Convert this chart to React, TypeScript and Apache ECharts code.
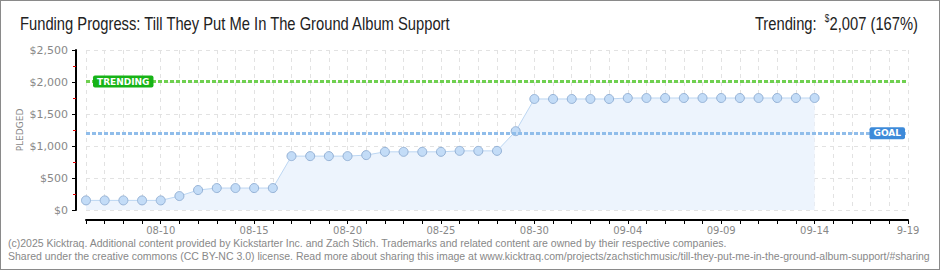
import React, { useEffect, useRef } from "react";
import * as echarts from "echarts";

const dates = [
  "08-06","08-07","08-08","08-09","08-10","08-11","08-12","08-13","08-14","08-15",
  "08-16","08-17","08-18","08-19","08-20","08-21","08-22","08-23","08-24","08-25",
  "08-26","08-27","08-28","08-29","08-30","08-31","09-01","09-02","09-03","09-04",
  "09-05","09-06","09-07","09-08","09-09","09-10","09-11","09-12","09-13","09-14",
  "09-15","09-16","09-17","09-18","09-19",
];
const tickLabels: Record<string, string> = {
  "08-10": "08-10", "08-15": "08-15", "08-20": "08-20", "08-25": "08-25",
  "08-30": "08-30", "09-04": "09-04", "09-09": "09-09", "09-14": "09-14", "09-19": "9-19",
};
const pledged = [
  150, 150, 150, 150, 150, 218, 312, 343, 343, 343,
  343, 842, 842, 842, 842, 858, 909, 909, 909, 909,
  924, 924, 924, 1232, 1735, 1735, 1735, 1735, 1735, 1750,
  1750, 1750, 1750, 1750, 1750, 1750, 1750, 1750, 1750, 1750,
];
const goal = 1200;
const trending = 2007;
const trendingPct = 167;
const yMax = 2500;
const yStep = 500;

const title = "Funding Progress: Till They Put Me In The Ground Album Support";
const footer1 = "(c)2025 Kicktraq. Additional content provided by Kickstarter Inc. and Zach Stich. Trademarks and related content are owned by their respective companies.";
const footer2 = "Shared under the creative commons (CC BY-NC 3.0) license. Read more about sharing this image at www.kicktraq.com/projects/zachstichmusic/till-they-put-me-in-the-ground-album-support/#sharing";

const LIB = "Liberation Sans";
const AXISF = "DejaVu Sans";
const CONDENSE = 0.82;

export default function App() {
  const ref = useRef<HTMLDivElement>(null);
  useEffect(() => {
    if (!ref.current) return;
    const chart = echarts.init(ref.current, undefined, { renderer: "svg" });
    const fmtMoney = (v: number) => "$" + v.toLocaleString("en-US");
    chart.setOption({
      animation: false,
      backgroundColor: "#ffffff",
      grid: { left: 86, right: 32, top: 50, bottom: 60 },
      xAxis: {
        type: "category",
        data: dates,
        boundaryGap: false,
        offset: 10,
        axisLine: { onZero: false, lineStyle: { color: "#000", width: 2 } },
        axisTick: { show: true, interval: 0, length: 4, lineStyle: { color: "#000", width: 1 } },
        axisLabel: {
          interval: 0,
          margin: 5,
          color: "#888",
          fontFamily: AXISF,
          fontSize: 10,
          formatter: (v: string) => tickLabels[v] || "",
        },
        splitLine: { show: true, interval: 0, lineStyle: { color: "#e2e2e2", type: [4, 4], width: 1 } },
      },
      yAxis: {
        type: "value",
        min: 0,
        max: yMax,
        interval: yStep,
        offset: 10,
        name: "PLEDGED",
        nameLocation: "middle",
        nameGap: 52,
        nameMoveOverlap: false,
        nameTextStyle: { color: "#888", fontFamily: AXISF, fontSize: 9 },
        axisLine: { show: true, onZero: false, lineStyle: { color: "#000", width: 2 } },
        axisTick: { show: true, length: 4, lineStyle: { color: "#000" } },
        minorTick: { show: true, splitNumber: 2, length: 3, lineStyle: { color: "#e00000" } },
        axisLabel: { color: "#888", fontFamily: AXISF, fontSize: 11, margin: 8, formatter: fmtMoney },
        splitLine: { show: true, lineStyle: { color: "#e2e2e2", type: [4, 4], width: 1 } },
      },
      series: [
        {
          type: "line",
          data: pledged,
          symbol: "circle",
          symbolSize: 9,
          showSymbol: true,
          itemStyle: { color: "#c3dcf7", borderColor: "#95b2d6", borderWidth: 1 },
          lineStyle: { color: "#bcd6f2", width: 1 },
          areaStyle: { color: "#edf4fd", opacity: 1 },
          z: 3,
          markLine: {
            silent: true,
            symbol: "none",
            data: [
              {
                yAxis: trending,
                lineStyle: { color: "#6fd050", type: [4, 2], width: 3 },
                label: {
                  show: true,
                  position: "insideStart",
                  formatter: "TRENDING",
                  color: "#fff",
                  fontFamily: AXISF,
                  fontSize: 9,
                  fontWeight: "bold",
                  backgroundColor: "#17b317",
                  padding: [2, 4, 1, 4],
                  borderRadius: 2,
                  distance: 7,
                },
              },
              {
                yAxis: goal,
                lineStyle: { color: "#90bdea", type: [4, 2], width: 3 },
                label: {
                  show: true,
                  position: "insideEnd",
                  formatter: "GOAL",
                  color: "#fff",
                  fontFamily: AXISF,
                  fontSize: 9,
                  fontWeight: "bold",
                  backgroundColor: "#3d8ad9",
                  padding: [2, 4, 1, 4],
                  borderRadius: 2,
                  distance: 3,
                },
              },
            ],
          },
        },
      ],
      graphic: [
        {
          type: "rect",
          shape: { x: 0, y: 0, width: 940, height: 270 },
          style: { fill: "none", stroke: "#8a8a8a", lineWidth: 2 },
          silent: true,
        },
        {
          type: "text",
          x: 20,
          y: 23,
          scaleX: CONDENSE,
          style: {
            text: title,
            fontFamily: LIB,
            fontSize: 18,
            fill: "#222",
            textAlign: "left",
            textVerticalAlign: "middle",
          },
        },
        {
          type: "text",
          x: 918,
          y: 23,
          scaleX: CONDENSE,
          style: {
            text: "Trending:  {s|$}" + trending.toLocaleString("en-US") + " (" + trendingPct + "%)",
            fontFamily: LIB,
            fontSize: 18,
            fill: "#222",
            textAlign: "right",
            textVerticalAlign: "middle",
            rich: { s: { fontSize: 10, verticalAlign: "top", fontFamily: LIB, fill: "#222" } },
          },
        },
        {
          type: "text",
          left: 8,
          top: 237,
          style: { text: footer1, fontFamily: LIB, fontSize: 10.5, fill: "#888" },
        },
        {
          type: "text",
          left: 8,
          top: 250,
          style: { text: footer2, fontFamily: LIB, fontSize: 10.5, fill: "#888" },
        },
      ],
    });
    return () => chart.dispose();
  }, []);
  return (
    <div
      ref={ref}
      style={{ position: "absolute", left: 0, top: 0, width: 940, height: 270 }}
    />
  );
}
